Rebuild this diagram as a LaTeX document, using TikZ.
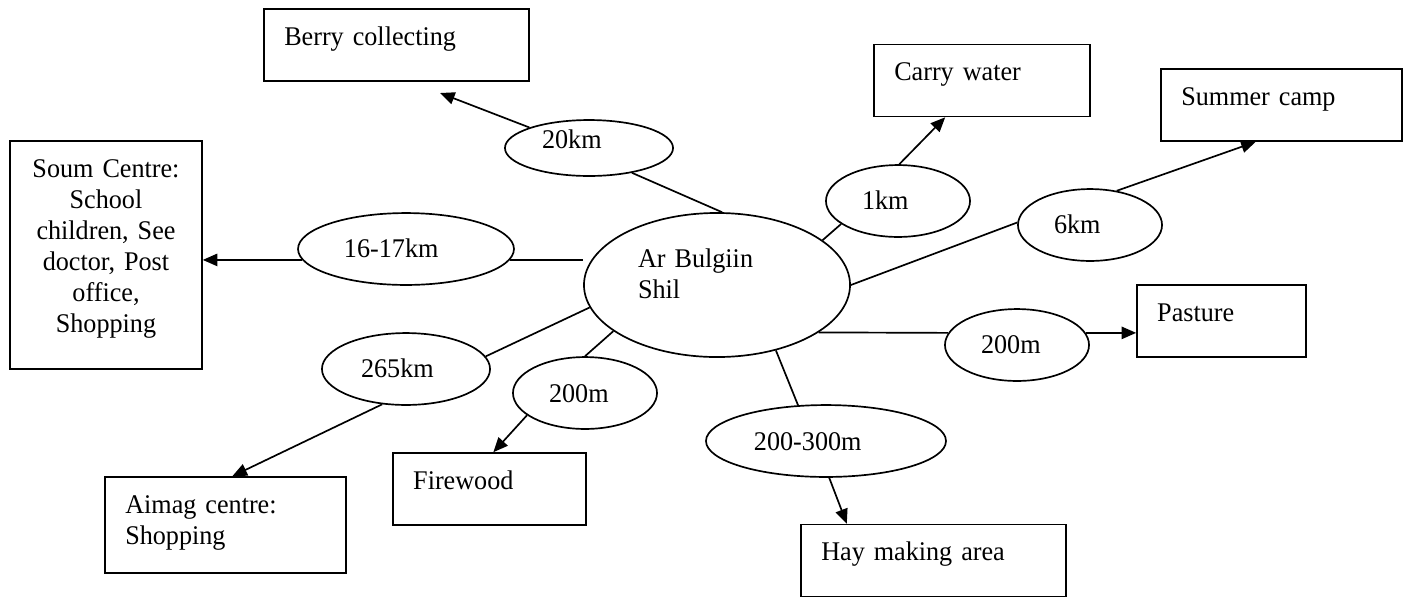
\documentclass[tikz,border=0pt]{standalone}
\usepackage{fontspec}
\setmainfont[FakeStretch=0.97]{Liberation Serif}
\usetikzlibrary{shapes.geometric,arrows.meta}
\begin{document}
\begin{tikzpicture}[x=0.445pt,y=-0.445pt,line width=0.75pt,
 every node/.style={font=\fontsize{12}{13.8}\selectfont},
 place/.style={draw,rectangle,align=left,inner xsep=9pt,inner ysep=8.1pt,text height=8pt,text depth=7.8pt},
 dist/.style={draw,ellipse,inner sep=0pt,align=left,minimum width=64.1pt,minimum height=32pt,text width=32pt,text height=8pt,text depth=0pt},
 arr/.style={-{Triangle[length=6.5pt,width=5.5pt]}}]
 \useasboundingbox (0,0) rectangle (1411,597);
 \node[draw,ellipse,inner sep=0pt,minimum width=118.4pt,minimum height=64.1pt,text width=70.3pt,align=left,text height=8pt,text depth=24pt] (hub) at (717,285) {Ar Bulgiin\\Shil};
 \node[dist,minimum width=74.8pt,minimum height=24.9pt,text width=41.8pt,text depth=7.2pt] (d20) at (589,148) {20km};
 \node[dist,minimum width=96.1pt,text width=55.2pt] (d1617) at (406,249) {16-17km};
 \node[dist] (d1) at (898,201) {1km};
 \node[dist] (d6) at (1090,225) {6km};
 \node[dist,minimum width=74.8pt,text width=40pt] (d265) at (406,369) {265km};
 \node[dist] (dfw) at (585,393) {200m};
 \node[dist] (dpas) at (1017,345) {200m};
 \node[dist,minimum width=106.8pt,text width=64.1pt] (d23) at (826,441) {200-300m};
 \node[place,text width=99.9pt] (berry) at (396.5,45) {Berry collecting};
 \node[place,text width=67.4pt,align=center,text depth=77.3pt] (soum) at (106,255) {Soum Centre:\\School\\children, See\\doctor, Post\\office,\\Shopping};
 \node[place,text width=78.1pt] (carry) at (982,80.5) {Carry water};
 \node[place,text width=89.2pt] (summer) at (1281.5,105) {Summer camp};
 \node[place,text width=57.2pt] (pasture) at (1221.5,321) {Pasture};
 \node[place,text width=67.9pt] (firewood) at (489.5,489) {Firewood};
 \node[place,text width=89.2pt,text depth=18.5pt] (aimag) at (225.5,525) {Aimag centre:\\Shopping};
 \node[place,text width=99.9pt] (hay) at (933.5,560.5) {Hay making area};
 \coordinate (berrytip) at (440,93);
 \draw (hub.86.9) -- (d20.-30.2);
 \draw[arr] (d20.161.3) -- (berrytip);
 \draw (d1617.-6.7) -- (d1617.-6.7 -| hub.west);
 \draw[arr] (d1617.186.7) -- (d1617.186.7 -| soum.east);
 \draw (hub.190.4) -- (d265.9.9);
 \draw[arr] (d265.236.3) -- (aimag.82.3);
 \draw (hub.204.2) -- (dfw.90);
 \draw[arr] (dfw.201.6) -- (firewood.84.6);
 \draw (hub.23.2) -- (d1.202);
 \draw[arr] (d1.88) -- (carry.225.4);
 \draw (hub.east) -- (d6.178);
 \draw[arr] (d6.52.6) -- (summer.235.8);
 \draw (hub.-25.9) -- (dpas.170);
 \draw[arr] (dpas.10) -- (dpas.10 -| pasture.west);
 \draw (hub.-48.3) -- (d23.128.7);
 \draw[arr] (d23.275) -- (hay.157.2);
\end{tikzpicture}
\end{document}
